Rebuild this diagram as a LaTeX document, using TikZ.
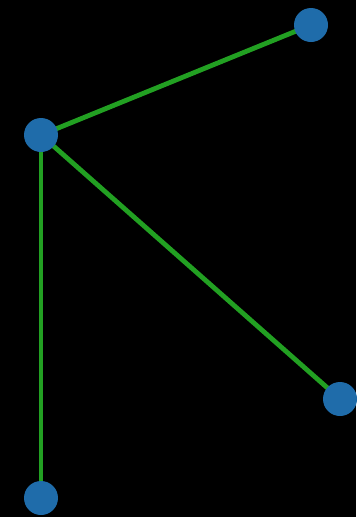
\documentclass[tikz,border=0pt]{standalone}
\usepackage{tikz}
\usetikzlibrary{backgrounds}
\definecolor{vertblue}{RGB}{31,108,170}
\definecolor{edgegreen}{RGB}{34,160,34}
\tikzset{
  vertex/.style={circle, fill=vertblue, draw=none, minimum size=34pt, inner sep=0pt},
  edge/.style={draw=edgegreen, line width=4.8pt}
}

\begin{document}
\begin{tikzpicture}[x=1pt, y=-1pt]
  \node[vertex] (hub) at (41,135) {};
  \node[vertex] (top) at (311,25) {};
  \node[vertex] (right) at (340,399) {};
  \node[vertex] (bottom) at (41,498) {};

  % edges behind the vertices
  \begin{scope}[on background layer]
    \fill[black] (0,0) rectangle (356,517);
    \draw[edge] (hub.center) -- (top.center);
    \draw[edge] (hub.center) -- (right.center);
    \draw[edge] (hub.center) -- (bottom.center);
  \end{scope}
  \useasboundingbox (0,0) rectangle (356,517);
\end{tikzpicture}
\end{document}
